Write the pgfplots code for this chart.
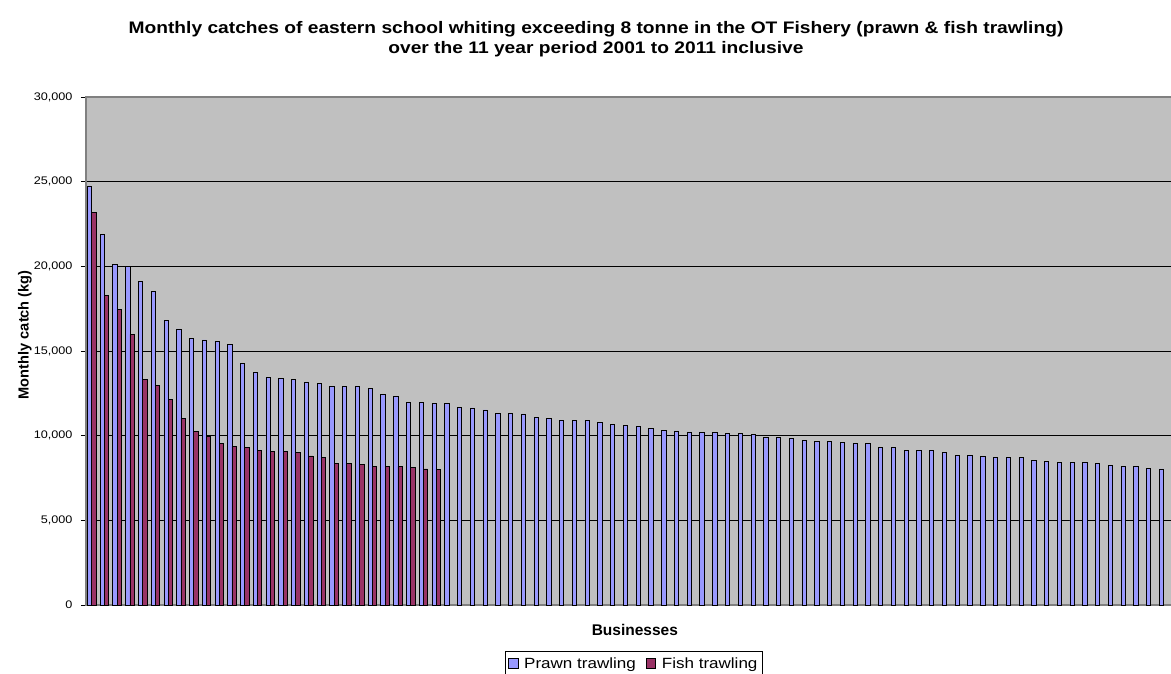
\documentclass[border=0pt]{standalone}
\usepackage{fontspec}
\setmainfont{Liberation Sans}
\newfontfamily\widefont[FakeStretch=1.15]{Liberation Sans}
\usepackage{pgfplots}
\pgfplotsset{compat=1.18}

\definecolor{plotbg}{HTML}{C0C0C0}
\definecolor{prawn}{HTML}{9999FF}
\definecolor{fish}{HTML}{993366}
\definecolor{frame}{HTML}{808080}

\begin{document}
\begin{tikzpicture}
\useasboundingbox (0pt,0pt) rectangle (1171pt,673pt);

% Chart title
\node[font=\widefont\bfseries\fontsize{16.7}{20}\selectfont, anchor=base] at (596pt,639pt)
  {Monthly catches of eastern school whiting exceeding 8 tonne in the OT Fishery (prawn \& fish trawling)};
\node[font=\widefont\bfseries\fontsize{16.7}{20}\selectfont, anchor=base] at (596pt,619pt)
  {over the 11 year period 2001 to 2011 inclusive};

\begin{axis}[
  at={(86pt,68pt)}, anchor=south west,
  scale only axis, width=1089pt, height=508pt,
  xmin=0.56, xmax=85.9,
  ymin=0, ymax=30000,
  ytick={0,5000,...,30000},
  xtick=\empty,
  scaled y ticks=false,
  /pgf/number format/.cd, 1000 sep={,}, assume math mode=true,
  /pgfplots/.cd,
  yticklabel style={font=\widefont\fontsize{11}{13}\selectfont, xshift=-5pt},
  tick align=outside,
  major tick length=5pt,
  tick style={draw=black, line width=0.8pt},
  ymajorgrids,
  major grid style={draw=black, line width=1pt},
  axis line style={draw=frame, line width=1.5pt},
  axis background/.style={fill=plotbg},
  ybar=0pt, bar width=4.3pt,
  ylabel={\bfseries Monthly catch (kg)},
  ylabel style={font=\fontsize{14.6}{16}\selectfont, at={(axis description cs:-0.0526,0.532)}, anchor=base, rotate=0},
  xlabel={\bfseries Businesses},
  xlabel style={font=\fontsize{15.5}{17}\selectfont, at={(axis description cs:0.504,0)}, anchor=base, yshift=-30pt},
  legend columns=2,
  legend style={at={(axis description cs:0.503,-0.0906)}, anchor=north, draw=black, line width=0.8pt,
    font=\widefont\fontsize{14.8}{16}\selectfont, inner xsep=3pt, inner ysep=4pt,
    /tikz/every odd column/.append style={column sep=4pt},
    /tikz/every even column/.append style={column sep=8pt}},
  legend image code/.code={\draw[#1, line width=0.6pt] (0pt,-4.5pt) rectangle (9.5pt,5pt);},
]
\addplot[draw=black, line width=0.7pt, fill=prawn] coordinates {
 (1,24745) (2,21890) (3,20120) (4,19980) (5,19115) (6,18505) (7,16830) (8,16300)
 (9,15750) (10,15650) (11,15590) (12,15375) (13,14270) (14,13740) (15,13445) (16,13365)
 (17,13327) (18,13170) (19,13090) (20,12933) (21,12933) (22,12893) (23,12795) (24,12460)
 (25,12323) (26,11988) (27,11949) (28,11890) (29,11890) (30,11680) (31,11634) (32,11516)
 (33,11319) (34,11319) (35,11280) (36,11083) (37,11024) (38,10886) (39,10886) (40,10886)
 (41,10787) (42,10669) (43,10610) (44,10551) (45,10413) (46,10315) (47,10276) (48,10217)
 (49,10177) (50,10177) (51,10138) (52,10138) (53,10079) (54,9902) (55,9902) (56,9843)
 (57,9705) (58,9665) (59,9665) (60,9606) (61,9547) (62,9547) (63,9311) (64,9311)
 (65,9134) (66,9134) (67,9134) (68,8996) (69,8839) (70,8839) (71,8780) (72,8740)
 (73,8701) (74,8701) (75,8563) (76,8465) (77,8425) (78,8425) (79,8425) (80,8366)
 (81,8228) (82,8169) (83,8169) (84,8071) (85,8032)
};
\addlegendentry{Prawn trawling}
\addplot[draw=black, line width=0.7pt, fill=fish] coordinates {
 (1,23190) (2,18270) (3,17460) (4,15985) (5,13345) (6,12970) (7,12125) (8,11025)
 (9,10255) (10,9940) (11,9548) (12,9370) (13,9310) (14,9115) (15,9075) (16,9075)
 (17,9015) (18,8800) (19,8740) (20,8366) (21,8366) (22,8307) (23,8189) (24,8189)
 (25,8189) (26,8130) (27,8032) (28,8010)
};
\addlegendentry{Fish trawling}
\end{axis}
\end{tikzpicture}
\end{document}
